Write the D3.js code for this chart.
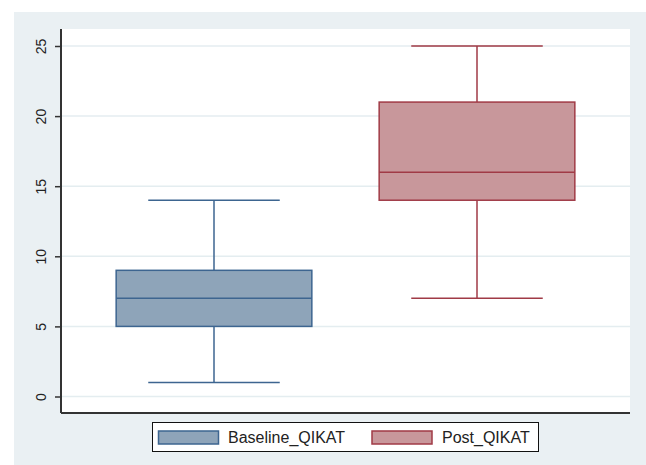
<!DOCTYPE html>
<html>
<head>
<meta charset="utf-8">
<script src="https://cdn.jsdelivr.net/npm/d3@7"></script>
<style>
  body { margin: 0; background: #fff; }
  svg { display: block; font-family: Arial, "Liberation Sans", sans-serif; }
</style>
</head>
<body>
<script>
"use strict";
const groups = ["Baseline_QIKAT", "Post_QIKAT"];
const mins = [1, 7];
const q1s = [5, 14];
const medians = [7, 16];
const q3s = [9, 21];
const maxs = [14, 25];
const yTicks = [0, 5, 10, 15, 20, 25];
const fills = ["#8ea4b9", "#c8979b"];
const strokes = ["#3d6590", "#a03a46"];

const size = {"width": 646, "height": 465};
const plot = {"left": 61, "right": 630, "top": 29, "bottom": 413};

const svg = d3.select("body")
  .append("svg")
  .attr("width", size.width)
  .attr("height", size.height);

// stata-like background panel
svg.append("rect")
  .attr("x", 14).attr("y", 12)
  .attr("width", size.width - 14).attr("height", size.height - 12)
  .attr("fill", "#eaf0f3");

svg.append("rect")
  .attr("x", plot.left).attr("y", plot.top)
  .attr("width", plot.right - plot.left).attr("height", plot.bottom - plot.top)
  .attr("fill", "#fff");

const y = d3.scaleLinear().domain([0, 25]).range([396.5, 46]);
const x = d3.scaleBand().domain(groups).range([82.5, 608.5]).paddingInner(0);
const bw = x.bandwidth();

// grid lines
svg.append("g")
  .selectAll("line")
  .data(yTicks)
  .enter()
  .append("line")
  .attr("x1", plot.left).attr("x2", plot.right)
  .attr("y1", d => y(d)).attr("y2", d => y(d))
  .attr("stroke", "#e4edf0")
  .attr("stroke-width", 1.5);

const data = groups.map((g, i) => ({
  name: g, min: mins[i], q1: q1s[i], med: medians[i], q3: q3s[i], max: maxs[i],
  fill: fills[i], stroke: strokes[i]
}));

const box = svg.selectAll("g.box")
  .data(data)
  .enter()
  .append("g")
  .attr("class", "box");

const cx = d => x(d.name) + bw / 2;

// whiskers
box.append("line")
  .attr("x1", cx).attr("x2", cx)
  .attr("y1", d => y(d.max)).attr("y2", d => y(d.q3))
  .attr("stroke", d => d.stroke).attr("stroke-width", 1.5);
box.append("line")
  .attr("x1", cx).attr("x2", cx)
  .attr("y1", d => y(d.q1)).attr("y2", d => y(d.min))
  .attr("stroke", d => d.stroke).attr("stroke-width", 1.5);
box.append("line")
  .attr("x1", d => cx(d) - bw * 0.25).attr("x2", d => cx(d) + bw * 0.25)
  .attr("y1", d => y(d.max)).attr("y2", d => y(d.max))
  .attr("stroke", d => d.stroke).attr("stroke-width", 1.5);
box.append("line")
  .attr("x1", d => cx(d) - bw * 0.25).attr("x2", d => cx(d) + bw * 0.25)
  .attr("y1", d => y(d.min)).attr("y2", d => y(d.min))
  .attr("stroke", d => d.stroke).attr("stroke-width", 1.5);

box.append("rect")
  .attr("x", d => cx(d) - bw * 0.372)
  .attr("width", bw * 0.744)
  .attr("y", d => y(d.q3))
  .attr("height", d => y(d.q1) - y(d.q3))
  .attr("fill", d => d.fill)
  .attr("stroke", d => d.stroke)
  .attr("stroke-width", 1.5);
box.append("line")
  .attr("x1", d => cx(d) - bw * 0.372).attr("x2", d => cx(d) + bw * 0.372)
  .attr("y1", d => y(d.med)).attr("y2", d => y(d.med))
  .attr("stroke", d => d.stroke).attr("stroke-width", 1.5);

// y axis, labels turned on their side like stata does
const ax = svg.append("g")
  .attr("transform", "translate(" + plot.left + ",0)")
  .call(d3.axisLeft(y).tickValues(yTicks).tickSize(6));
ax.select(".domain").remove();
ax.selectAll(".tick line").attr("stroke", "#333").attr("stroke-width", 1.5);
ax.selectAll(".tick text")
  .attr("font-size", 14)
  .attr("fill", "#222")
  .attr("text-anchor", "middle")
  .attr("x", 0).attr("y", 0).attr("dy", "0.35em")
  .attr("transform", "translate(-20,0) rotate(-90)");

svg.append("line")
  .attr("x1", plot.left).attr("x2", plot.left)
  .attr("y1", plot.top).attr("y2", plot.bottom)
  .attr("stroke", "#333").attr("stroke-width", 2);
svg.append("line")
  .attr("x1", plot.left).attr("x2", plot.right)
  .attr("y1", plot.bottom).attr("y2", plot.bottom)
  .attr("stroke", "#333").attr("stroke-width", 2);

// legend
const legend = svg.append("g");
legend.append("rect")
  .attr("x", 152.5).attr("y", 422.5)
  .attr("width", 386).attr("height", 29)
  .attr("fill", "#fff").attr("stroke", "#111").attr("stroke-width", 1);
const swatchX = [158.5, 372];
const labelX = [228, 442];
data.forEach((d, i) => {
  legend.append("rect")
    .attr("x", swatchX[i]).attr("y", 431)
    .attr("width", 60).attr("height", 13)
    .attr("fill", d.fill).attr("stroke", d.stroke).attr("stroke-width", 1.5);
  legend.append("text")
    .attr("x", labelX[i]).attr("y", 443)
    .attr("font-size", 16)
    .attr("fill", "#222")
    .text(d.name);
});
</script>
</body>
</html>
